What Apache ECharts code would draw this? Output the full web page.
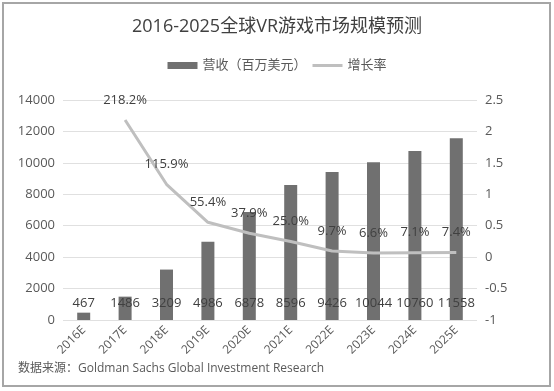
<!DOCTYPE html>
<html><head><meta charset="utf-8">
<script src="https://cdn.jsdelivr.net/npm/echarts@6/dist/echarts.min.js"></script>
<style>
html,body{margin:0;padding:0;background:#fff;}
#c{width:554px;height:391px;}
#frame{position:absolute;left:2px;top:2px;width:545px;height:381px;border:2px solid #a6a6a6;pointer-events:none;}
</style></head>
<body>
<div id="c"></div><div id="frame"></div>
<script>
const categories = ['2016E','2017E','2018E','2019E','2020E','2021E','2022E','2023E','2024E','2025E'];
const revenue = [467,1486,3209,4986,6878,8596,9426,10044,10760,11558];
const growth = [null,2.182,1.159,0.554,0.379,0.250,0.097,0.066,0.071,0.074];
const FONT = '"Open Sans","Noto Sans CJK SC",sans-serif';
const chart = echarts.init(document.getElementById('c'));
chart.setOption({
  animation:false,
  textStyle:{fontFamily:FONT},
  title:{text:'2016-2025全球VR游戏市场规模预测',left:'center',top:13,
    textStyle:{fontSize:18,fontWeight:'normal',color:'#404040',fontFamily:FONT}},
  legend:{top:54,left:'center',itemGap:6,itemWidth:30,itemHeight:7,
    textStyle:{fontSize:13,color:'#595959',fontFamily:FONT},
    data:[{name:'营收（百万美元）',icon:'rect',itemStyle:{color:'#707070'}},
          {name:'增长率',icon:'path://M0 0H30V3H0Z',itemStyle:{color:'#bfbfbf'}}]},
  grid:{left:63,right:77,top:100,bottom:71},
  xAxis:{type:'category',data:categories,
    axisLine:{show:false},axisTick:{show:false},
    axisLabel:{rotate:45,fontSize:12,color:'#595959',margin:8,interval:0}},
  yAxis:[
    {type:'value',min:0,max:14000,interval:2000,
      axisLine:{show:false},axisTick:{show:false},
      axisLabel:{fontSize:13,color:'#595959',margin:8,formatter:v=>String(v)},
      splitLine:{lineStyle:{color:'#e0e0e0',width:1}}},
    {type:'value',min:-1,max:2.5,interval:0.5,
      axisLine:{show:false},axisTick:{show:false},
      axisLabel:{fontSize:13,color:'#595959',margin:8,formatter:v=>String(v)},
      splitLine:{show:false}}
  ],
  series:[
    {name:'营收（百万美元）',type:'bar',data:revenue,barWidth:13,
      itemStyle:{color:'#707070'},
      label:{show:true,position:'insideBottom',distance:10,fontSize:13,color:'#404040'}},
    {name:'增长率',type:'line',yAxisIndex:1,data:growth,symbol:'circle',symbolSize:1,showSymbol:true,
      lineStyle:{color:'#bfbfbf',width:3},itemStyle:{color:'rgba(0,0,0,0)'},
      label:{show:true,position:'top',distance:13,fontSize:13,color:'#404040',
        formatter:p=>(p.value*100).toFixed(1)+'%'}}
  ],
  graphic:[{type:'text',left:18,top:363,style:{text:'数据来源：Goldman Sachs Global Investment Research',
    fontSize:12,fill:'#595959',fontFamily:FONT}}]
});
</script></body></html>
